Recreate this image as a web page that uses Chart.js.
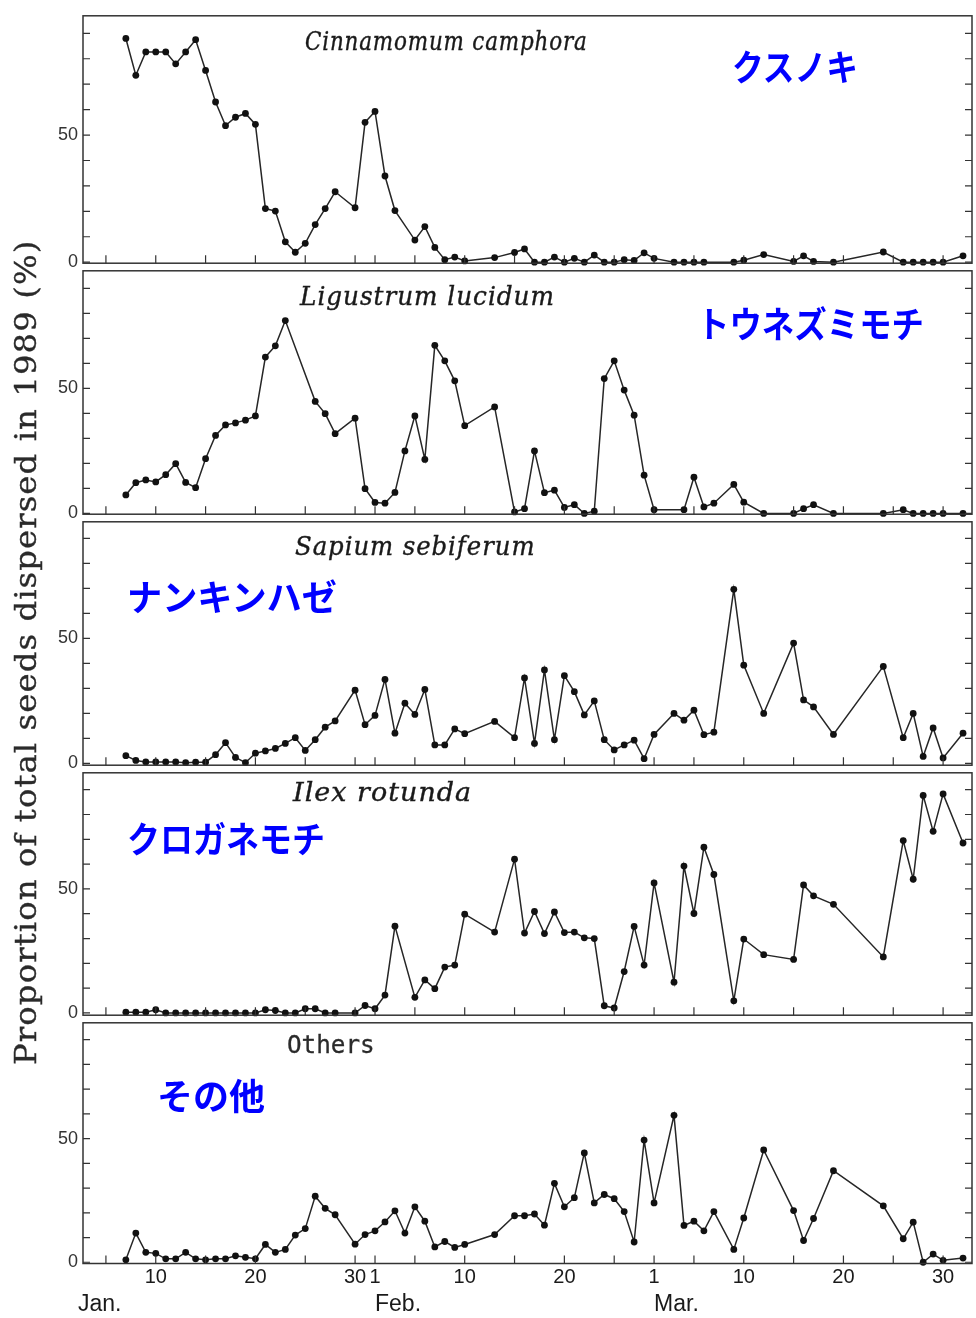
<!DOCTYPE html>
<html>
<head>
<meta charset="utf-8">
<script src="https://cdn.jsdelivr.net/npm/chart.js@4.4.1/dist/chart.umd.min.js"></script>
<style>
  body { margin: 0; background: #fff; }
  #wrap { position: relative; width: 976px; height: 1318px; overflow: hidden; background: #fff; }
  #wrap canvas { position: absolute; left: 0; }
  .lbl { position: absolute; white-space: nowrap; line-height: 1; transform-origin: 0 0; }
  .sp { font-family: 'DejaVu Serif', serif; font-style: italic; font-size: 26px; letter-spacing: 1px; color: #1a1a1a; -webkit-text-stroke: 0.4px #1a1a1a; }
  .oth { font-family: 'DejaVu Sans Mono', monospace; font-size: 24px; color: #2a2a2a; -webkit-text-stroke: 0.3px #2a2a2a; }
  .jp { font-family: 'Noto Sans CJK JP', sans-serif; font-weight: bold; font-size: 36px; color: #0000ff; }
  .ytitle { font-family: 'DejaVu Serif', serif; font-size: 30px; letter-spacing: 1px; color: #2a2a2a; -webkit-text-stroke: 0.3px #2a2a2a; }
</style>
</head>
<body>
<div id="wrap"></div>
<script>
// sampling days, day of year 1989 (Jan 1 = 1, Feb 1 = 32, Mar 1 = 60)
var days = [7, 8, 9, 10, 11, 12, 13, 14, 15, 16, 17, 18, 19, 20, 21, 22, 23, 24, 25, 26, 27, 28,
    30, 31, 32, 33, 34, 35, 36, 37, 38, 39, 40, 41,
    44,
    46, 47, 48, 49, 50, 51, 52, 53, 54, 55, 56, 57, 58, 59, 60,
    62, 63, 64, 65, 66,
    68, 69, 71, 74, 75, 76, 78,
    83, 85, 86, 87, 88, 89, 91];

// % of total seeds dispersed, per species (null = no point that day)
var camphora = [88, 73.5, 82.7, 82.7, 82.7, 78, 82.7, 87.5, 75.4, 63, 53.7, 57, 58.5, 54.2, 21.1, 20.1, 8, 3.9, 7.4, 14.8, 21.1, 27.7,
    21.4, 55, 59.3, 33.9, 20.3, null, 8.7, 14, 5.8, 1, 2, 0.5,
    1.8,
    3.8, 5.2, 0, 0, 2, 0, 1.5, 0, 2.8, 0, 0, 1, 0.7, 3.7, 1.5,
    0, 0, 0, 0, null,
    0, 0.8, 3, 0.3, 2.5, 0.3, 0,
    4, 0, 0, 0, 0, 0, 2.5];

var ligustrum = [7.4, 12.3, 13.4, 12.6, 15.5, 19.9, 12.4, 10.3, 21.9, 31.2, 35.4, 36.2, 37.3, 39, 62.5, 67, 77.1, null, null, 44.8, 39.9, 31.9,
    38.1, 9.9, 4.4, 4.1, 8.4, 25, 39, 21.6, 67.2, 61, 53, 35.1,
    42.6,
    0.6, 1.9, 25, 8.3, 9.3, 2.4, 3.5, 0, 0.9, 53.9, 61, 49.3, 39.3, 15.3, 1.5,
    null, 1.5, 14.5, 2.6, 4.1,
    11.6, 4.5, 0, 0, 1.9, 3.5, 0,
    0, 1.5, 0, 0, 0, 0, 0];

var sapium = [3.1, 1.2, 0.6, 0.6, 0.6, 0.6, 0.3, 0.5, 0.5, 3.5, 8.3, 2.4, 0.3, 4.1, 5, 6, 8, 10.3, 5.2, 9.5, 14.5, 17,
    29.3, 15.5, 19.2, 33.6, 12.1, 24.1, 19.6, 29.6, 7.4, 7.4, 13.8, 11.9,
    16.8,
    10.3, 34.2, 8, 37.4, 9.5, 35.1, 28.7, 19.4, 25, 9.5, 5.4, 7.4, 9.3, 1.9, 11.6,
    20, 17.3, 21.3, 11.5, 12.5,
    69.6, 39.3, 20, 48.1, 25.4, 22.6, 11.6,
    38.8, 10.3, 20, 2.8, 14.2, 2.2, 12.1];

var ilex = [0.3, 0.3, 0.3, 1.3, 0, 0, 0, 0, 0, 0, 0, 0, 0, 0, 1.3, 1, 0, 0, 1.7, 1.7, 0, 0,
    0, 3, 1.7, 7.2, 35, null, 6.3, 13.3, 9.8, 18.5, 19.3, 39.8,
    32.6,
    62, 32.2, 40.9, 32, 40.7, 32.4, 32.6, 30.3, 30, 2.9, 2, 16.7, 34.9, 19.3, 52.4,
    12.4, 59.2, 40.1, 66.8, 55.8,
    4.9, 29.8, 23.5, 21.6, 51.6, 47.2, 43.8,
    22.6, 69.5, 53.9, 87.7, 73.2, 88.3, 68.5];

var others = [1, 11.8, 4, 3.6, 1.4, 1.4, 4, 1.4, 1, 1.4, 1.4, 2.6, 2, 1.4, 7.2, 4, 5.2, 11, 13.6, 26.7, 21.8, 19.2,
    7.3, 11.2, 12.7, 16.3, 20.8, 11.8, 22.4, 16.6, 6.2, 8.4, 6, 7.2,
    11.2,
    18.8, 18.8, 19.5, 15, 31.9, 22.4, 26.1, 44.2, 24, 27.4, 25.7, 20.5, 8.2, 49.4, 24,
    59.4, 14.9, 16.6, 12.7, 20.5,
    5.2, 17.9, 45.4, 20.9, 8.8, 17.7, 37,
    22.8, 9.5, 16.2, 0, 3.3, 0.8, 1.7];

// axis ticks
var dayTicks = [10, 20, 30, 32, 41, 51, 60, 69, 79, 89];
var dayTickLabels = ['10', '20', '30', '1', '10', '20', '1', '10', '20', '30'];
var minorDays = [5, 10, 15, 20, 25, 30, 32, 36, 41, 46, 51, 56, 60, 64, 69, 74, 79, 84, 89];
var monthTicks = [2.2, 32, 60];
var monthLabels = ['Jan.', 'Feb.', 'Mar.'];
var yLabelTicks = [0, 50];
var yMinor = [0, 10, 20, 30, 40, 50, 60, 70, 80, 90];

var wrap = document.getElementById('wrap');
var sansFont = "'Liberation Sans', Arial, sans-serif";

// frame + inward tick marks
var frameTicks = {
    id: 'frameTicks',
    afterDraw: function (chart) {
        var ctx = chart.ctx, a = chart.chartArea;
        var x = chart.scales.x, y = chart.scales.y;
        ctx.save();
        ctx.strokeStyle = '#333';
        ctx.lineWidth = 1.5;
        ctx.strokeRect(a.left, a.top, a.right - a.left, a.bottom - a.top);
        ctx.lineWidth = 1.2;
        ctx.beginPath();
        yMinor.forEach(function (v) {
            var py = y.getPixelForValue(v);
            if (py < a.top + 2) return;
            ctx.moveTo(a.left, py); ctx.lineTo(a.left + 7, py);
            ctx.moveTo(a.right, py); ctx.lineTo(a.right - 7, py);
        });
        minorDays.forEach(function (v) {
            var px = x.getPixelForValue(v);
            ctx.moveTo(px, a.bottom); ctx.lineTo(px, a.bottom - 8);
        });
        ctx.stroke();
        ctx.restore();
    }
};

var panels = [
    { values: camphora, top: 12, bottom: 267, ymin: -0.4, ymax: 96.9 },
    { values: ligustrum, top: 267, bottom: 518, ymin: -0.3, ymax: 97 },
    { values: sapium, top: 518, bottom: 769, ymin: -0.7, ymax: 96.6 },
    { values: ilex, top: 769, bottom: 1019, ymin: -0.9, ymax: 96.8 },
    { values: others, top: 1019, bottom: 1269, ymin: -0.5, ymax: 96.8 }
];

panels.forEach(function (p, i) {
    var last = i === panels.length - 1;
    var cTop = p.top - 12;
    var cBottom = last ? 1318 : p.bottom + 12;
    var cv = document.createElement('canvas');
    cv.width = 976;
    cv.height = cBottom - cTop;
    cv.style.top = cTop + 'px';
    cv.style.width = '976px';
    cv.style.height = cv.height + 'px';
    wrap.appendChild(cv);

    new Chart(cv, {
        type: 'line',
        data: {
            datasets: [{
                data: days.map(function (d, k) { return { x: d, y: p.values[k] }; }),
                borderColor: '#262626',
                borderWidth: 1.5,
                pointRadius: 3.4,
                pointBackgroundColor: '#111',
                pointBorderWidth: 0,
                tension: 0,
                spanGaps: true,
                clip: false
            }]
        },
        options: {
            responsive: false,
            animation: false,
            layout: { padding: { top: 12, right: 1, bottom: last ? 0.5 : 12, left: 0 } },
            plugins: { legend: { display: false }, tooltip: { enabled: false } },
            scales: {
                x: {
                    type: 'linear', min: 2.7, max: 91.9,
                    display: last,
                    afterBuildTicks: function (s) { s.ticks = dayTicks.map(function (v) { return { value: v }; }); },
                    grid: { display: false, drawTicks: false },
                    border: { display: false },
                    ticks: {
                        autoSkip: false, maxRotation: 0, padding: 4, color: '#1a1a1a',
                        font: { family: sansFont, size: 20, lineHeight: 1 },
                        callback: function (v, k) { return dayTickLabels[k]; }
                    }
                },
                x2: {
                    type: 'linear', min: 2.7, max: 91.9,
                    display: last, position: 'bottom', weight: 1,
                    afterBuildTicks: function (s) { s.ticks = monthTicks.map(function (v) { return { value: v }; }); },
                    grid: { display: false, drawTicks: false },
                    border: { display: false },
                    ticks: {
                        autoSkip: false, maxRotation: 0, padding: 1.5, align: 'start', color: '#1a1a1a',
                        font: { family: sansFont, size: 23, lineHeight: 1 },
                        callback: function (v, k) { return monthLabels[k]; }
                    }
                },
                y: {
                    min: p.ymin, max: p.ymax,
                    afterBuildTicks: function (s) { s.ticks = yLabelTicks.map(function (v) { return { value: v }; }); },
                    afterFit: function (s) { s.width = 83; },
                    grid: { display: false, drawTicks: false },
                    border: { display: false },
                    ticks: {
                        padding: 5, color: '#333',
                        font: { family: sansFont, size: 18 },
                        callback: function (v) { return String(v); }
                    }
                }
            }
        },
        plugins: [frameTicks]
    });
});

// panel titles and Japanese names
var labels = [
    { text: 'Cinnamomum camphora', cls: 'sp', left: 305, top: 28, width: 283 },
    { text: 'Ligustrum lucidum', cls: 'sp', left: 300, top: 283, width: 255 },
    { text: 'Sapium sebiferum', cls: 'sp', left: 295, top: 533, width: 240 },
    { text: 'Ilex rotunda', cls: 'sp', left: 293, top: 779, width: 179 },
    { text: 'Others', cls: 'oth', left: 287, top: 1033, width: 88 },
    { text: 'クスノキ', cls: 'jp', left: 732, top: 47, width: 126 },
    { text: 'トウネズミモチ', cls: 'jp', left: 697, top: 304, width: 227 },
    { text: 'ナンキンハゼ', cls: 'jp', left: 127, top: 577, width: 210 },
    { text: 'クロガネモチ', cls: 'jp', left: 127, top: 819, width: 198 },
    { text: 'その他', cls: 'jp', left: 157, top: 1076, width: 108 }
];

labels.forEach(function (l) {
    var d = document.createElement('div');
    d.className = 'lbl ' + l.cls;
    d.textContent = l.text;
    wrap.appendChild(d);
    var s = l.width / d.offsetWidth;
    d.style.left = l.left + 'px';
    d.style.top = l.top + 'px';
    d.style.transform = 'scaleX(' + s + ')';
});

// y axis title, rotated
var yt = document.createElement('div');
yt.className = 'lbl ytitle';
yt.textContent = 'Proportion of total seeds dispersed in 1989 (%)';
wrap.appendChild(yt);
var ys = 825 / yt.offsetWidth;
yt.style.left = '0px';
yt.style.top = '0px';
yt.style.transform = 'translate(11px, 1065px) rotate(-90deg) scaleX(' + ys + ')';
</script>
</body>
</html>
